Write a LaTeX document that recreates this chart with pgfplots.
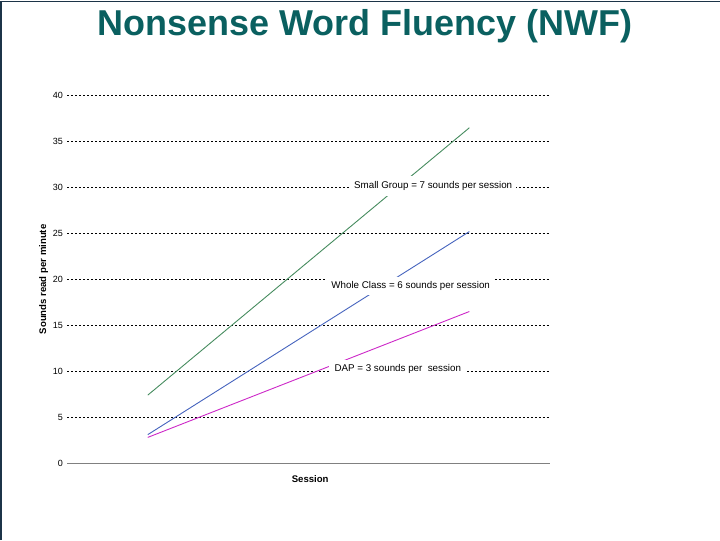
\documentclass[border=0pt]{standalone}
\usepackage{fontspec}
\setmainfont{Liberation Sans}
\usepackage{pgfplots}
\pgfplotsset{compat=1.18}
\definecolor{titleteal}{RGB}{10,96,96}
\definecolor{bordernavy}{RGB}{28,52,72}
\definecolor{sgreen}{RGB}{70,140,95}
\definecolor{wblue}{RGB}{70,100,190}
\definecolor{dmag}{RGB}{205,40,200}
\begin{document}
\begin{tikzpicture}[x=1pt,y=1pt]
\path[fill=white] (0,0) rectangle (720,540);
\draw[bordernavy,line width=1.5pt] (0.75,0) -- (0.75,540);
\draw[bordernavy,line width=1pt] (0,539.5) -- (720,539.5);
\node[text=titleteal,font=\fontsize{36}{40}\selectfont\bfseries, anchor=base] at (365,505) {Nonsense Word Fluency (NWF)};
\begin{axis}[
  at={(67pt,77pt)}, anchor=south west,
  scale only axis, width=483pt, height=368pt,
  xmin=0, xmax=6, ymin=0, ymax=40,
  axis line style={draw=none},
  xtick=\empty,
  ytick={0,5,...,40},
  major tick length=0pt,
  ymajorgrids,
  grid style={black, dash pattern=on 2pt off 2pt, line width=0.6pt},
  /pgf/number format/assume math mode=true,
  yticklabel style={font=\fontsize{9}{10}\selectfont, xshift=-1pt},
  ylabel={\bfseries Sounds read per minute},
  ylabel style={font=\fontsize{9.6}{10}\selectfont, yshift=-2pt},
  clip=false,
]
\draw[gray, line width=0.8pt] (axis cs:0,0) -- (axis cs:6,0);
\addplot[sgreen, line width=0.9pt] coordinates {(1,7.4) (5,36.5)};
\addplot[wblue, line width=0.9pt] coordinates {(1,3.1) (5,25.2)};
\addplot[dmag, line width=0.9pt] coordinates {(1,2.8) (5,16.5)};
\node[fill=white, font=\fontsize{9.8}{11}\selectfont, minimum width=165pt, minimum height=20pt, inner sep=0pt] at (axis cs:4.55,30.2) {Small Group = 7 sounds per session};
\node[fill=white, font=\fontsize{9.8}{11}\selectfont, minimum width=167pt, minimum height=18pt, inner sep=0pt] at (axis cs:4.27,19.3) {Whole Class = 6 sounds per session};
\node[fill=white, font=\fontsize{9.8}{11}\selectfont, minimum width=138pt, minimum height=16pt, inner sep=0pt] at (axis cs:4.11,10.3) {DAP = 3 sounds per\ \ session};
\node[font=\fontsize{9.6}{10}\selectfont\bfseries] at (axis cs:3.02,-1.75) {Session};
\end{axis}
\end{tikzpicture}
\end{document}
